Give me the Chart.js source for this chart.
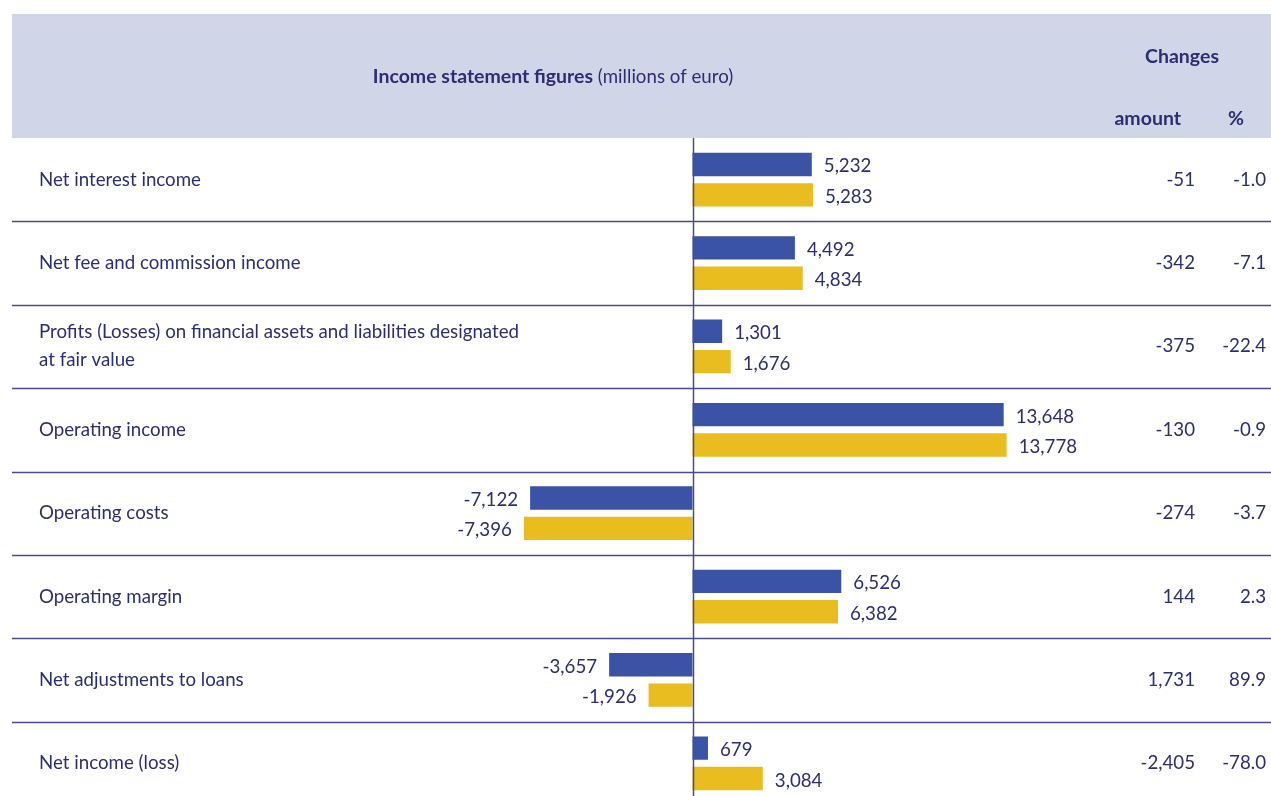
<!DOCTYPE html>
<html>
<head>
<meta charset="utf-8">
<script src="https://cdn.jsdelivr.net/npm/chart.js@4.4.1/dist/chart.umd.min.js"></script>
<style>
  html, body { margin: 0; padding: 0; background: #ffffff; overflow: hidden; }
  #wrap { width: 1271px; height: 796px; overflow: hidden; }
  canvas { display: block; }
</style>
</head>
<body>
<div id="wrap"><canvas id="c" width="1271" height="805"></canvas></div>
<script>
// ---- data ----
const categories = [
  ["Net interest income"],
  ["Net fee and commission income"],
  ["Profits (Losses) on financial assets and liabilities designated", "at fair value"],
  ["Operating income"],
  ["Operating costs"],
  ["Operating margin"],
  ["Net adjustments to loans"],
  ["Net income (loss)"]
];
const currentYear  = [5232, 4492, 1301, 13648, -7122, 6526, -3657, 679];
const previousYear = [5283, 4834, 1676, 13778, -7396, 6382, -1926, 3084];
const changeAmount = [-51, -342, -375, -130, -274, 144, 1731, -2405];
const changePct    = [-1.0, -7.1, -22.4, -0.9, -3.7, 2.3, 89.9, -78.0];

const headerTitleBold = "Income statement figures";
const headerTitleRest = " (millions of euro)";
const headerChanges = "Changes";
const headerAmount = "amount";
const headerPct = "%";

// ---- style ----
const NAVY = "#2c2e72";
const LINE = "#4b4d8a";
const BLUE = "#3a53a4";
const YELLOW = "#e9bc1f";
const BAND = "#d0d5e8";
const FONT = "Lato, 'Open Sans', sans-serif";
const TXT = "18.7px " + FONT;
const BOLD = "bold 19.5px " + FONT;
const fmt = v => v.toLocaleString('en-US');

const tablePlugin = {
  id: 'tablePlugin',
  beforeDraw(chart) {
    const ctx = chart.ctx;
    ctx.save();
    ctx.fillStyle = "#ffffff";
    ctx.fillRect(0, 0, chart.width, chart.height);
    // header band
    ctx.fillStyle = BAND;
    ctx.fillRect(12, 14, chart.width - 12, 124);
    ctx.fillStyle = NAVY;
    ctx.textBaseline = "middle";
    ctx.font = BOLD;
    const w1 = ctx.measureText(headerTitleBold).width;
    ctx.font = TXT;
    const w2 = ctx.measureText(headerTitleRest).width;
    const cx = 553;
    let x0 = cx - (w1 + w2) / 2;
    ctx.textAlign = "left";
    ctx.font = BOLD;
    ctx.fillText(headerTitleBold, x0, 77);
    ctx.font = TXT;
    ctx.fillText(headerTitleRest, x0 + w1, 77);
    ctx.font = BOLD;
    ctx.textAlign = "center";
    ctx.fillText(headerChanges, 1182, 57);
    ctx.textAlign = "right";
    ctx.fillText(headerAmount, 1181, 119);
    ctx.textAlign = "center";
    ctx.fillText(headerPct, 1236, 119);
    ctx.restore();
  },
  afterDatasetsDraw(chart) {
    const ctx = chart.ctx;
    const ys = chart.scales.y;
    const xs = chart.scales.x;
    ctx.save();
    // row separators
    ctx.strokeStyle = LINE;
    ctx.lineWidth = 1.5;
    for (let i = 0; i < categories.length - 1; i++) {
      const y = Math.round((ys.getPixelForValue(i) + ys.getPixelForValue(i + 1)) / 2) + 0.5;
      ctx.beginPath();
      ctx.moveTo(12, y);
      ctx.lineTo(chart.width, y);
      ctx.stroke();
    }
    // zero axis
    const zx = Math.round(xs.getPixelForValue(0)) + 0.5;
    ctx.beginPath();
    ctx.moveTo(zx, 138);
    ctx.lineTo(zx, chart.height);
    ctx.stroke();

    ctx.fillStyle = NAVY;
    ctx.textBaseline = "middle";
    ctx.font = TXT;
    // category labels and change columns
    categories.forEach((lines, i) => {
      const cy = ys.getPixelForValue(i);
      const lh = 28;
      const startY = cy - (lines.length - 1) * lh / 2;
      ctx.textAlign = "left";
      lines.forEach((t, k) => ctx.fillText(t, 39, startY + k * lh));
      ctx.textAlign = "right";
      ctx.fillText(fmt(changeAmount[i]), 1195, cy);
      ctx.fillText(changePct[i].toFixed(1), 1266, cy);
    });
    // bar value labels
    chart.data.datasets.forEach((ds, di) => {
      const meta = chart.getDatasetMeta(di);
      meta.data.forEach((bar, i) => {
        const v = ds.data[i];
        if (v >= 0) {
          ctx.textAlign = "left";
          ctx.fillText(fmt(v), bar.x + 12, bar.y + 2);
        } else {
          ctx.textAlign = "right";
          ctx.fillText(fmt(v), bar.x - 12, bar.y + 2);
        }
      });
    });
    ctx.restore();
  }
};

new Chart(document.getElementById('c'), {
  type: 'bar',
  data: {
    labels: categories,
    datasets: [
      { label: 'Current year', data: currentYear, backgroundColor: BLUE,
        categoryPercentage: 0.73, barPercentage: 0.77 },
      { label: 'Previous year', data: previousYear, backgroundColor: YELLOW,
        categoryPercentage: 0.73, barPercentage: 0.77 }
    ]
  },
  options: {
    indexAxis: 'y',
    responsive: false,
    animation: false,
    layout: { padding: { left: 8.5, right: 122.5, top: 138, bottom: 0 } },
    plugins: { legend: { display: false }, tooltip: { enabled: false } },
    scales: {
      x: { display: false, min: -30000, max: 20000 },
      y: { display: false }
    }
  },
  plugins: [tablePlugin]
});
</script>
</body>
</html>
